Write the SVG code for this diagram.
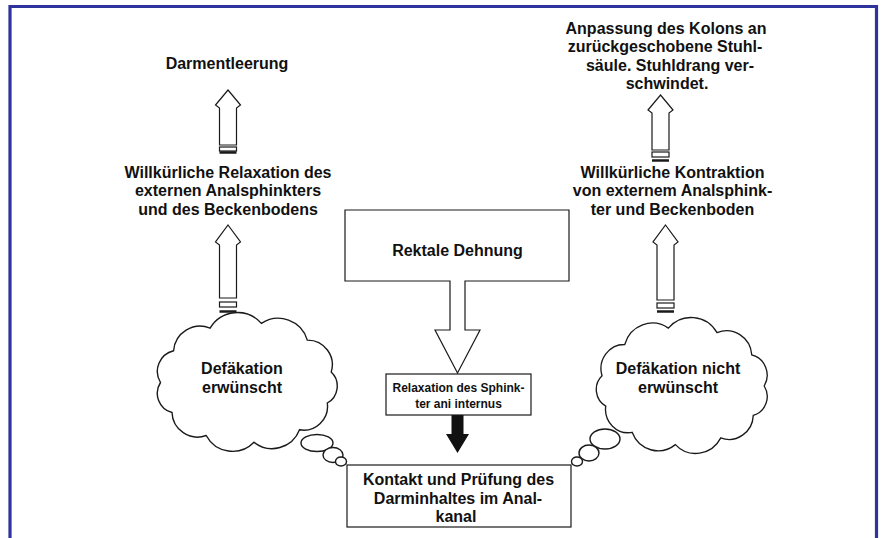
<svg xmlns="http://www.w3.org/2000/svg" width="882" height="538" viewBox="0 0 882 538">
<defs>
<style>
.t{font-family:"Liberation Sans",Arial,sans-serif;font-weight:bold;font-size:16px;fill:#111;text-anchor:middle}
.ts{font-size:12px}
.ln{fill:#fff;stroke:#1a1a1a;stroke-width:1.2}
.cl{fill:#fff;stroke:#1a1a1a;stroke-width:1.4}
.band{fill:none;stroke:#1a1a1a;stroke-width:1.2}
.bar{stroke:#1a1a1a;stroke-width:2.5}
</style>
<path id="cloud" d="M160.5,382.5 A21.3,21.3 0 0 1 173.6,350.7 A26.6,26.6 0 0 1 210.1,328.1 A31.9,31.9 0 0 1 261.4,323.4 A30.3,30.3 0 0 1 307.3,340.1 A24.7,24.7 0 0 1 331.2,372.1 A19.3,19.3 0 0 1 327.3,403 A23.9,23.9 0 0 1 299.5,429.8 A29.3,29.3 0 0 1 254,442.3 A29.9,29.9 0 0 1 206.2,435.5 A25.5,25.5 0 0 1 172,412.5 A19.9,19.9 0 0 1 160.5,382.5 Z"/>
</defs>
<rect width="882" height="538" fill="#fff"/>
<path id="frame" d="M10,538 V6.5 H876.5 V538" fill="none" stroke="#2f339c" stroke-width="3.2"/>

<g id="connectors">
  <g id="arrow-left-top">
    <path class="ln" d="M228,90 L240.5,105 L236.5,108 V145 H219.5 V108 L215.5,105 Z"/>
    <rect class="band" x="219.5" y="147" width="17" height="4"/>
    <path class="bar" d="M219.5,152.5 H236.5"/>
  </g>
  <g id="arrow-left-bottom">
    <path class="ln" d="M228,225 L240.5,242 L236.5,245 V298 H219.5 V245 L215.5,242 Z"/>
    <rect class="band" x="219.5" y="302" width="17" height="5"/>
    <path class="bar" d="M219.5,311.5 H236.5"/>
  </g>
  <g id="arrow-right-top">
    <path class="ln" d="M660.5,95 L673,110 L669,113 V150 H652 V113 L648,110 Z"/>
    <rect class="band" x="652" y="152" width="17" height="5"/>
    <path class="bar" d="M652,160.5 H669"/>
  </g>
  <g id="arrow-right-bottom">
    <path class="ln" d="M665.5,225 L678,242 L674,245 V300 H657 V245 L653,242 Z"/>
    <rect class="band" x="657" y="303" width="17" height="5"/>
    <path class="bar" d="M657,311.5 H674"/>
  </g>
  <path id="arrow-black" d="M451.5,415 H463.5 V434 H469 L457.5,453 L446,434 H451.5 Z" fill="#111"/>
</g>

<g id="node-darmentleerung">
  <text class="t" x="227" y="69">Darmentleerung</text>
</g>
<g id="node-anpassung">
  <text class="t" x="666" y="33.5">Anpassung des Kolons an</text>
  <text class="t" x="665" y="52">zurückgeschobene Stuhl-</text>
  <text class="t" x="670" y="70.5">säule. Stuhldrang ver-</text>
  <text class="t" x="667" y="89">schwindet.</text>
</g>
<g id="node-relaxation-ext">
  <text class="t" x="228" y="177.5">Willkürliche Relaxation des</text>
  <text class="t" x="228" y="196">externen Analsphinkters</text>
  <text class="t" x="228" y="214.5">und des Beckenbodens</text>
</g>
<g id="node-kontraktion">
  <text class="t" x="672.5" y="177.5">Willkürliche Kontraktion</text>
  <text class="t" x="672.5" y="196">von externem Analsphink-</text>
  <text class="t" x="672.5" y="214.5">ter und Beckenboden</text>
</g>
<g id="node-rektale-dehnung">
  <path class="ln" d="M345,210 H569 V281 H465 V330 H480 L457.5,373 L435,330 H450 V281 H345 Z"/>
  <text class="t" x="457.5" y="255.5">Rektale Dehnung</text>
</g>
<g id="node-relaxation-int">
  <rect class="ln" x="386" y="374" width="145" height="41"/>
  <text class="t ts" x="458.5" y="391.5">Relaxation des Sphink-</text>
  <text class="t ts" x="458.5" y="407.5">ter ani internus</text>
</g>
<g id="node-kontakt">
  <rect class="ln" x="347" y="465" width="224" height="62"/>
  <text class="t" x="458.5" y="485">Kontakt und Prüfung des</text>
  <text class="t" x="458" y="504">Darminhaltes im Anal-</text>
  <text class="t" x="456" y="522">kanal</text>
</g>
<g id="node-cloud-left">
  <use href="#cloud" class="cl"/>
  <ellipse class="cl" cx="317" cy="443" rx="16" ry="8.5"/>
  <ellipse class="cl" cx="333" cy="455" rx="10" ry="7.5"/>
  <ellipse class="cl" cx="341" cy="461.5" rx="5.5" ry="4.5"/>
  <text class="t" x="242" y="373.5">Defäkation</text>
  <text class="t" x="242" y="393">erwünscht</text>
</g>
<g id="node-cloud-right">
  <use href="#cloud" class="cl" vector-effect="non-scaling-stroke" transform="translate(682.5,386) scale(-0.95,0.98) translate(-246.5,-382.5)"/>
  <ellipse class="cl" cx="605" cy="439" rx="15" ry="10"/>
  <ellipse class="cl" cx="589" cy="453" rx="10" ry="8"/>
  <ellipse class="cl" cx="577" cy="461.5" rx="5.5" ry="4.5"/>
  <text class="t" x="678" y="373.5">Defäkation nicht</text>
  <text class="t" x="678" y="393">erwünscht</text>
</g>
</svg>
